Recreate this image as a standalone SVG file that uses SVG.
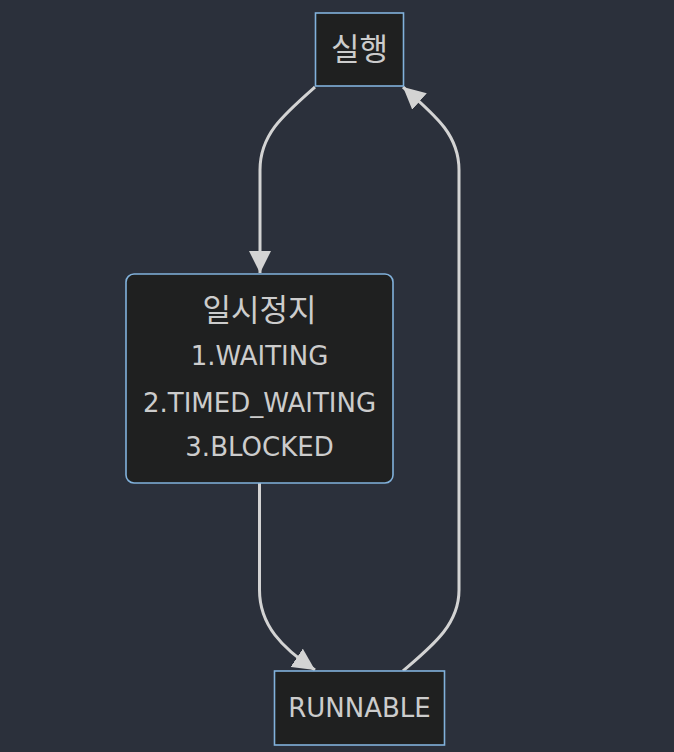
<svg xmlns="http://www.w3.org/2000/svg" width="674" height="752" viewBox="0 0 674 752">
<style>
.node rect{fill:#1f2020;stroke:#81b1db;stroke-width:1.6}
.node text{fill:#cccccc;font-family:"DejaVu Sans","Noto Sans CJK KR",sans-serif;font-size:26px;text-anchor:middle}
.node text.ko{font-family:"Noto Sans CJK KR",sans-serif;font-size:31px}
.edge{fill:none;stroke:#d3d3d3;stroke-width:3}
</style>
<defs>
<marker id="arrow" viewBox="0 0 10 10" refX="10" refY="5" markerUnits="userSpaceOnUse" markerWidth="22" markerHeight="22" orient="auto">
<path d="M0,0 L10,5 L0,10 z" fill="#d3d3d3"/>
</marker>
</defs>
<rect width="674" height="752" fill="#2b303b"/>
<g id="connectors">
<path class="edge" d="M315,87 C282,116 260,135 260,170 L260,273" marker-end="url(#arrow)"/>
<path class="edge" d="M259.5,483 L259.5,590 C259.5,625 282,648 315,670" marker-end="url(#arrow)"/>
<path class="edge" d="M403,671 C432,646 459,625 459,590 L459,170 C459,135 436,116 403,87" marker-end="url(#arrow)"/>
</g>
<g id="node-run" class="node">
<rect x="315.5" y="13" width="88" height="73"/>
<text class="ko" x="359.5" y="60">실행</text>
</g>
<g id="node-pause" class="node">
<rect x="126" y="274" width="267" height="209" rx="8" ry="8"/>
<text class="ko" x="259.5" y="321">일시정지</text>
<text x="259.5" y="365">1.WAITING</text>
<text x="259.5" y="412">2.TIMED_WAITING</text>
<text x="259.5" y="456">3.BLOCKED</text>
</g>
<g id="node-runnable" class="node">
<rect x="274.5" y="671" width="170" height="74"/>
<text x="359.5" y="717">RUNNABLE</text>
</g>
</svg>
